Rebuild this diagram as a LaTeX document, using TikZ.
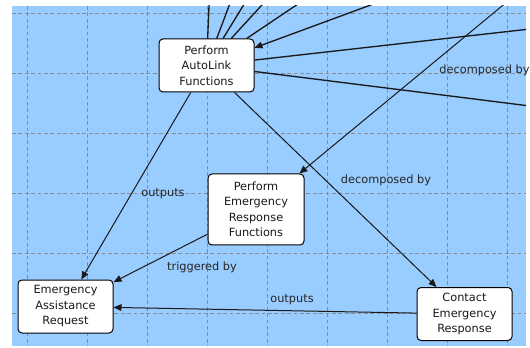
\documentclass[tikz,border=0pt]{standalone}
\usepackage{fontspec}
\setmainfont{DejaVu Sans}
\usetikzlibrary{arrows.meta,calc}
\definecolor{canvasblue}{HTML}{99CCFF}
\definecolor{gridgray}{HTML}{868C94}
\pgfdeclarelayer{bg}
\pgfdeclarelayer{edges}
\pgfsetlayers{bg,edges,main}
\begin{document}
\begin{tikzpicture}[x=0.75pt,y=-0.75pt,
  box/.style={draw=black, line width=0.75pt, fill=white, rounded corners=3pt,
    align=center, inner sep=0pt, minimum width=71.25pt, minimum height=39.75pt,
    font=\fontsize{8.5}{11.6}\selectfont, text=black!90},
  lbl/.style={font=\fontsize{8.5}{10}\selectfont, text=black!85, inner sep=0pt},
  link/.style={line width=0.75pt, draw=black!90},
  heavy/.style={link, line width=1pt},
  arr/.style={link, -{Triangle[length=6pt,width=5pt]}},
  gridline/.style={gridgray, line width=0.7pt, dash pattern=on 2.8pt off 2pt}]

\useasboundingbox (0,0) rectangle (530,348);

% process and item boxes
\node[box] (AL) at (206.5,65.5) {Perform\\AutoLink\\Functions};
\node[box, minimum width=72pt, minimum height=53.25pt] (PERF) at (256,209.5)
  {Perform\\Emergency\\Response\\Functions};
\node[box] (EAR) at (65.5,306.5) {Emergency\\Assistance\\Request};
\node[box] (CER) at (464.5,314) {Contact\\Emergency\\Response};

% canvas and dashed grid
\begin{pgfonlayer}{bg}
  \fill[canvasblue] (12,6) rectangle (526,346);
  \foreach \gx in {27,87,...,507} \draw[gridline] (\gx,6) -- (\gx,346);
  \foreach \gy in {13,73,...,313} \draw[gridline] (12,\gy) -- (526,\gy);
\end{pgfonlayer}

% ends of links to boxes outside the visible canvas
\coordinate (up1) at (210.5,-29.7);
\coordinate (up2) at (242.5,-29.7);
\coordinate (up3) at (264.9,-29.7);
\coordinate (up4) at (293.7,-29.7);
\coordinate (up5) at (348.1,-29.7);
\coordinate (up6) at (464.9,-29.7);
\coordinate (rt1) at (594.7,21.7);
\coordinate (rt2) at (594.7,114.1);
\coordinate (upP) at (551.2,-34.7);

\begin{pgfonlayer}{edges}
  \begin{scope}
    \clip (12,6) rectangle (526,346);
    \draw[heavy] (AL) -- (up1);
    \draw[heavy] (AL) -- (up2);
    \draw[heavy] (AL) -- (up3);
    \draw[heavy] (AL) -- (up4);
    \draw[heavy] (AL) -- (up5);
    \draw[arr, line width=1pt] (up6) -- (AL);
    \draw[heavy] (AL) -- (rt1);
    \draw[heavy] (AL) -- (rt2);
    \draw[arr] (upP) -- (PERF);
    \draw[arr] (AL) -- (EAR);
    \draw[arr] (AL) -- (CER);
    \draw[arr] (PERF) -- (EAR);
    \draw[arr] (CER) -- (EAR);
  \end{scope}
\end{pgfonlayer}

% link labels
\node[lbl] (l1) at (163,194) {outputs};
\node[lbl] (l2) at (202,267) {triggered by};
\node[lbl] (l3) at (386,180) {decomposed by};
\node[lbl] (l4) at (292,300) {outputs};
\node[lbl] (l5) at (484.5,70) {decomposed by};
\end{tikzpicture}
\end{document}
